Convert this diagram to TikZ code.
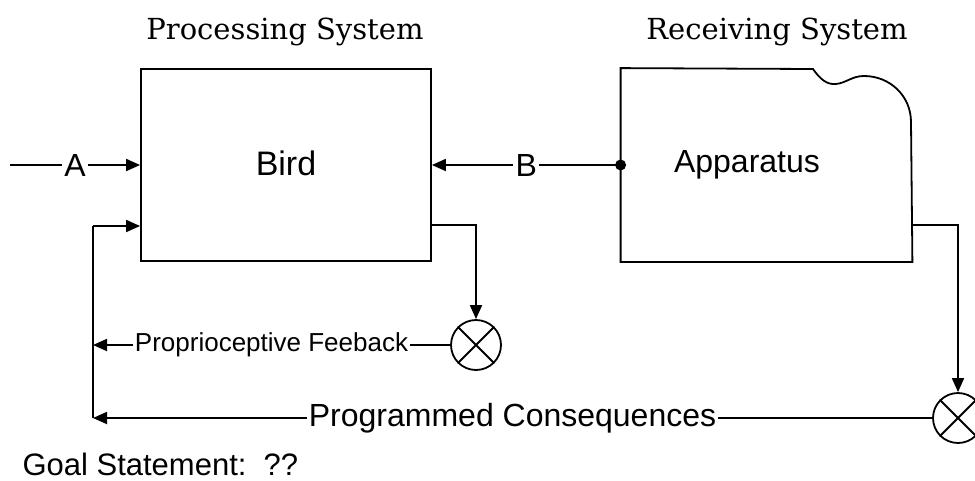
\documentclass[tikz,border=0pt]{standalone}
\usepackage{fontspec}
\setmainfont{Liberation Sans}
\newfontfamily\titlefont{DejaVu Serif}
\usetikzlibrary{calc, arrows.meta, positioning}

\begin{document}
\begin{tikzpicture}[x=1pt, y=-1pt,
                block/.style = {
                    rectangle, draw=black,
                    line width=1.8pt, inner sep=0pt,
                    minimum width=290pt, minimum height=192pt,
                    font=\fontsize{34}{40}\selectfont
                },
                title/.style = {
                    font=\titlefont\fontsize{29}{34}\selectfont, anchor=base
                },
                lbl/.style = {
                    font=\fontsize{32}{38}\selectfont,
                    fill=white, inner sep=2.5pt
                },
                sum/.style = {
                    circle, draw=black, line width=1.8pt,
                    minimum size=50pt, inner sep=0pt
                },
                arrow/.style = {
                    draw, -{Triangle[length=14pt, width=12pt]}, line width=1.8pt
                },
                line/.style = {
                    draw, line width=1.8pt
                }
                ]
                \useasboundingbox (0,0) rectangle (975,480);

                \node[title] (proctitle) at (285,39) {Processing System};
                \node[title] (rectitle) at (777,39) {Receiving System};

                \node[block] (bird) at (286,165) {\raisebox{3pt}{Bird}};
                \node[block, draw=none] (app) at (766.5,165) {};
                \node[font=\fontsize{32}{38}\selectfont, anchor=base] (apptext) at (747,172) {Apparatus};

                \node[sum] (sum1) at (476,345) {};
                \node[sum] (sum2) at (958,418) {};

                \coordinate (ain) at (10,165);
                \coordinate (fbtop) at (93,226);
                \coordinate (fbmid) at (93,345);
                \coordinate (fbbot) at (93,418);

                \node[font=\fontsize{31}{37}\selectfont, anchor=base west] (goal) at (19,475) {Goal Statement:\ \ ??};

                % apparatus outline with the notch
                \path[line] (app.south west) -- (app.north west) -- (813,69)
                    .. controls (820,79) and (827,85) .. (836,84)
                    .. controls (846,83) and (852,76) .. (864,76)
                    .. controls (890,76) and (911,96) .. (911,122)
                    -- (app.south east) -- cycle;

                \path[line] (sum1.north west) -- (sum1.south east) (sum1.north east) -- (sum1.south west);
                \path[line] (sum2.north west) -- (sum2.south east) (sum2.north east) -- (sum2.south west);

                \path[arrow] (ain) -- node[lbl] {A} (bird.west);
                \path[arrow] (app.west) -- node[lbl] {B} (bird.east);
                \fill (app.west) circle (5.5pt);

                \path[arrow] ([yshift=-60pt]bird.east) -| (sum1.north);
                \path[arrow] ([yshift=-60pt]app.east) -| (sum2.north);
                \path[arrow] (sum1.west) -- node[lbl, font=\fontsize{26}{31}\selectfont, inner sep=1.5pt] {Proprioceptive Feeback} (fbmid);
                \path[arrow] (sum2.west) -- node[lbl, inner sep=1.5pt] {Programmed Consequences} (fbbot);
                \path[line] (fbbot) -- (fbtop);
                \path[arrow] (fbtop) -- (bird.west |- fbtop);
\end{tikzpicture}
\end{document}
